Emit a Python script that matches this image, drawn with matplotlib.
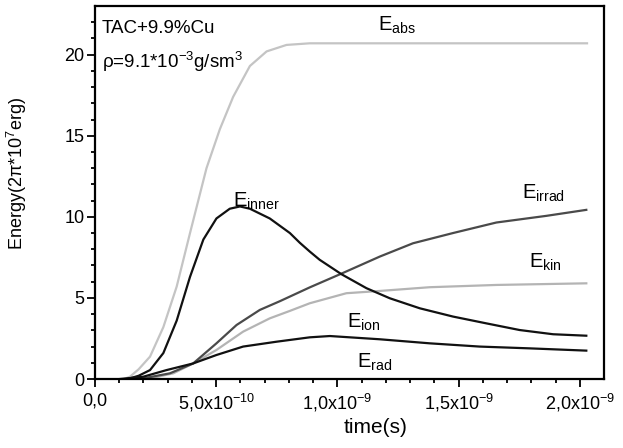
import matplotlib
matplotlib.use("Agg")
import matplotlib.pyplot as plt
import numpy as np
from matplotlib.ticker import FixedLocator, FuncFormatter

plt.rcParams["font.family"] = ["Liberation Sans", "DejaVu Sans"]
plt.rcParams["mathtext.fontset"] = "custom"
plt.rcParams["mathtext.rm"] = "Liberation Sans"
plt.rcParams["mathtext.it"] = "Liberation Sans"

# time in units of 1e-10 s, energy in units of 2pi*1e7 erg
t_abs = [1.2, 1.44, 1.8, 2.27, 2.82, 3.37, 3.92, 4.26, 4.6, 5.15, 5.7, 6.39, 7.08, 7.9, 8.86,
         10.0, 12.0, 15.0, 18.0, 20.3]
e_abs = [0.0, 0.14, 0.6, 1.38, 3.2, 5.7, 9.0, 11.0, 13.0, 15.4, 17.4, 19.3, 20.2, 20.6, 20.7,
         20.7, 20.7, 20.7, 20.7, 20.7]

t_inner = [1.3, 1.44, 1.8, 2.27, 2.82, 3.37, 3.92, 4.47, 5.01, 5.56, 5.98, 6.39, 7.21, 8.04, 8.45,
           8.86, 9.27, 10.17, 11.2, 12.16, 13.4, 14.77, 16.15, 17.52, 18.9, 20.27]
e_inner = [0.0, 0.04, 0.2, 0.55, 1.6, 3.6, 6.3, 8.6, 9.9, 10.5, 10.64, 10.5, 9.9, 9.0, 8.4,
           7.86, 7.35, 6.46, 5.6, 4.98, 4.36, 3.85, 3.43, 3.02, 2.76, 2.67]

t_irrad = [1.5, 1.99, 3.09, 4.05, 5.01, 5.84, 6.8, 7.63, 8.86, 10.17, 11.75, 13.12, 14.77,
           16.56, 18.62, 20.27]
e_irrad = [0.0, 0.04, 0.35, 0.96, 2.2, 3.33, 4.26, 4.8, 5.65, 6.5, 7.55, 8.37, 9.0,
           9.65, 10.06, 10.43]

t_kin = [1.8, 2.27, 3.23, 4.05, 5.01, 6.11, 7.21, 8.04, 8.86, 10.37, 11.75, 13.81, 16.56, 20.27]
e_kin = [0.0, 0.04, 0.35, 0.96, 1.79, 2.92, 3.74, 4.2, 4.67, 5.29, 5.43, 5.66, 5.8, 5.9]

t_ion = [1.03, 1.99, 2.95, 4.05, 5.01, 6.11, 7.49, 8.86, 9.69, 11.75, 13.81, 15.87, 17.93, 20.27]
e_ion = [0.0, 0.14, 0.55, 0.96, 1.48, 2.0, 2.3, 2.57, 2.65, 2.45, 2.2, 2.0, 1.89, 1.75]

x_major = [0.0, 5e-10, 1e-9, 1.5e-9, 2e-9]
y_major = [0, 5, 10, 15, 20]

fig = plt.figure(figsize=(6.23, 4.48), dpi=100)
ax = fig.add_axes([0.1525, 0.154, 0.817, 0.8326])

ax.plot(np.array(t_abs) * 1e-10, e_abs, color="#c4c4c4", lw=1.6)
ax.plot(np.array(t_kin) * 1e-10, e_kin, color="#b4b4b4", lw=1.6)
ax.plot(np.array(t_irrad) * 1e-10, e_irrad, color="#4a4a4a", lw=1.6)
ax.plot(np.array(t_inner) * 1e-10, e_inner, color="#111111", lw=1.6)
ax.plot(np.array(t_ion) * 1e-10, e_ion, color="#111111", lw=1.6)

ax.set_xlim(0, 2.1e-9)
ax.set_ylim(0, 23)
ax.xaxis.set_major_locator(FixedLocator(x_major))
ax.xaxis.set_minor_locator(FixedLocator(np.arange(1, 21) * 1e-10))
ax.yaxis.set_major_locator(FixedLocator(y_major))
ax.yaxis.set_minor_locator(FixedLocator(np.arange(1, 23)))


def xfmt(v, pos):
    if abs(v) < 1e-15:
        return "0,0"
    exp = int(np.floor(np.log10(abs(v)) + 1e-9))
    mant = v / 10 ** exp
    return ("%.1f" % mant).replace(".", ",") + "x10$^{%d}$" % exp


ax.xaxis.set_major_formatter(FuncFormatter(xfmt))
ax.tick_params(which="both", direction="out", top=False, right=False, labelsize=13, width=1.3)
ax.tick_params(which="major", length=5.5)
ax.tick_params(axis="x", which="major", pad=4)
ax.tick_params(axis="y", which="major", pad=2)
ax.tick_params(which="minor", length=3)
for sp in ax.spines.values():
    sp.set_linewidth(1.6)

ax.set_xlabel("time(s)", fontsize=15)
ax.xaxis.set_label_coords(0.552, -0.105)
ax.set_ylabel(r"Energy(2$\pi$*10$^{7}$erg)", fontsize=13)
ax.yaxis.set_label_coords(-0.13, 0.55)

ax.text(0.29e-10, 21.35, "TAC+9.9%Cu", fontsize=13.5)
ax.text(0.29e-10, 19.2, r"$\rho$=9.1*10$^{-3}$g/sm$^{3}$", fontsize=13.5)

lab = dict(fontsize=14.5)
ax.text(1.167e-9, 21.5, r"E$_{\rm abs}$", **lab)
ax.text(5.69e-10, 10.6, r"E$_{\rm inner}$", **lab)
ax.text(1.76e-9, 11.1, r"E$_{\rm irrad}$", **lab)
ax.text(1.79e-9, 6.85, r"E$_{\rm kin}$", **lab)
ax.text(1.04e-9, 3.15, r"E$_{\rm ion}$", **lab)
ax.text(1.08e-9, 0.68, r"E$_{\rm rad}$", **lab)

fig.savefig("out.png", dpi=100)
